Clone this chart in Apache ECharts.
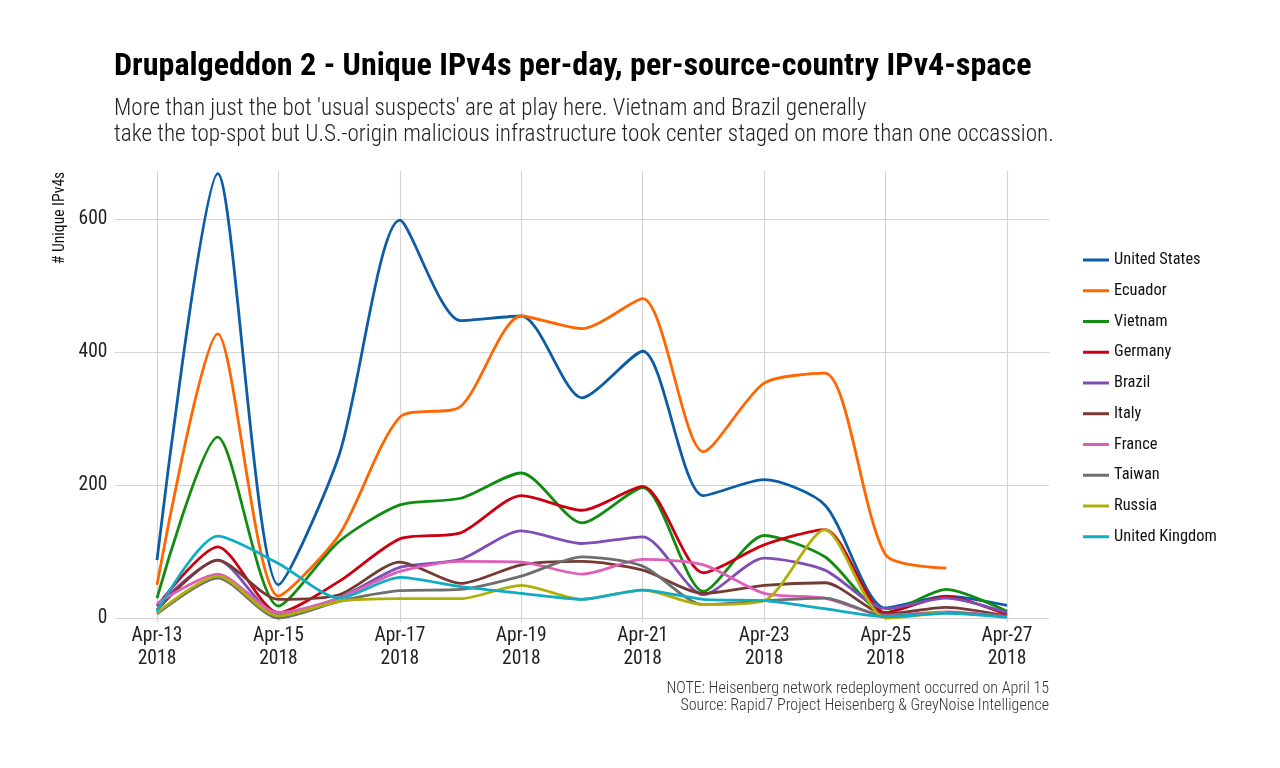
<!DOCTYPE html>
<html lang="en">
<head>
<meta charset="UTF-8">
<title>Drupalgeddon 2</title>
<script src="https://cdn.jsdelivr.net/npm/echarts@6/dist/echarts.min.js"></script>
<style>
html, body { margin: 0; background: #fff; }
#chart { width: 1280px; height: 768px; }
</style>
</head>
<body>
<div id="chart"></div>
<script>
var days = ['Apr-13','Apr-14','Apr-15','Apr-16','Apr-17','Apr-18','Apr-19','Apr-20','Apr-21','Apr-22','Apr-23','Apr-24','Apr-25','Apr-26','Apr-27'];
var countries = ['United States','Ecuador','Vietnam','Germany','Brazil','Italy','France','Taiwan','Russia','United Kingdom'];
var colors = ['#0D5CA6','#FF6600','#118C11','#CC0010','#7F4DB3','#753B33','#DD5FB8','#6E6E6E','#AFAF0A','#11ACC4'];

var unitedStates = [87,668,50,245,598,447,454,331,401,184,208,170,15,33,19];
var ecuador = [50,427,33,125,302,318,454,435,480,250,353,368,95,75,null];
var vietnam = [30,272,18,115,170,180,218,143,196,40,124,92,8,43,10];
var germany = [18,107,8,55,119,128,184,162,198,68,110,133,8,32,5];
var brazil = [18,87,5,30,76,88,131,112,122,35,90,72,14,30,8];
var italy = [12,87,28,35,84,52,80,85,72,37,49,53,6,16,3];
var france = [22,66,8,30,70,85,84,66,88,80,37,30,4,9,2];
var taiwan = [6,60,0,25,41,43,63,92,78,20,26,30,3,8,2];
var russia = [8,63,3,25,29,29,49,28,42,20,26,133,0,9,null];
var unitedKingdom = [10,123,82,30,61,47,37,28,42,28,26,14,2,7,1];
var allValues = [unitedStates,ecuador,vietnam,germany,brazil,italy,france,taiwan,russia,unitedKingdom];

var condensed = '"Roboto Condensed","Liberation Sans Narrow",Roboto,sans-serif';
var tickDays = [0,2,4,6,8,10,12,14];
var gridColor = '#d4d4d4';

var myChart = echarts.init(document.getElementById('chart'), null, {renderer: 'canvas'});
myChart.setOption({
    animation: false,
    color: colors,
    title: [
        {text: 'Drupalgeddon 2 - Unique IPv4s per-day, per-source-country IPv4-space', left: 114, top: 51, padding: 0,
         textStyle: {fontFamily: condensed, fontSize: 32.1, fontWeight: 'bold', color: '#000'}},
        {text: "More than just the bot 'usual suspects' are at play here. Vietnam and Brazil generally\ntake the top-spot but U.S.-origin malicious infrastructure took center staged on more than one occassion.",
         left: 114, top: 96, padding: 0,
         textStyle: {fontFamily: condensed, fontSize: 23.15, fontWeight: 300, lineHeight: 26, color: '#222'}},
        {text: 'NOTE: Heisenberg network redeployment occurred on April 15\nSource: Rapid7 Project Heisenberg & GreyNoise Intelligence',
         left: 1049, top: 680, textAlign: 'right', padding: 0,
         textStyle: {fontFamily: condensed, fontSize: 16, fontWeight: 300, lineHeight: 17, color: '#333', align: 'right'}}
    ],
    legend: {
        orient: 'vertical', left: 1083, top: 251, padding: 0, itemWidth: 26, itemHeight: 3, itemGap: 12.75,
        icon: 'rect', data: countries,
        textStyle: {fontFamily: condensed, fontSize: 16.4, color: '#111', lineHeight: 18}
    },
    graphic: [{
        type: 'text', x: 60, y: 218, rotation: Math.PI / 2,
        style: {text: '# Unique IPv4s', fontFamily: condensed, fontSize: 15.6, fill: '#111', align: 'center', verticalAlign: 'middle'}
    }],
    grid: {left: 114.5, right: 230.5, top: 171, bottom: 150},
    xAxis: {
        type: 'value', min: -0.7, max: 14.7,
        axisLine: {show: false},
        axisTick: {show: true, customValues: tickDays, length: 4, lineStyle: {color: gridColor, width: 1.2}},
        axisLabel: {
            customValues: tickDays, margin: 7, fontFamily: condensed, fontSize: 19.5, lineHeight: 22.5, color: '#222',
            showMinLabel: true, showMaxLabel: true,
            formatter: function (v) { return days[v] + '\n2018'; }
        },
        splitLine: {show: false}
    },
    yAxis: {
        type: 'value', min: 0, max: 672, interval: 200,
        axisLine: {show: false}, axisTick: {show: false},
        axisLabel: {margin: 7, fontFamily: condensed, fontSize: 19.5, color: '#222', showMaxLabel: false},
        splitLine: {show: true, showMaxLine: false, lineStyle: {color: gridColor, width: 1.2}}
    },
    series: countries.map(function (name, i) {
        return {
            name: name, type: 'line', smooth: 0.25, showSymbol: false, symbol: 'none',
            lineStyle: {width: 2.8}, clip: false,
            data: allValues[i].map(function (v, d) { return [d, v]; }),
            markLine: i === 0 ? {
                silent: true, symbol: 'none', label: {show: false}, animation: false, z: 0,
                lineStyle: {color: gridColor, width: 1.2, type: 'solid'},
                data: tickDays.map(function (d) { return {xAxis: d}; })
            } : undefined
        };
    })
});
</script>
</body>
</html>
